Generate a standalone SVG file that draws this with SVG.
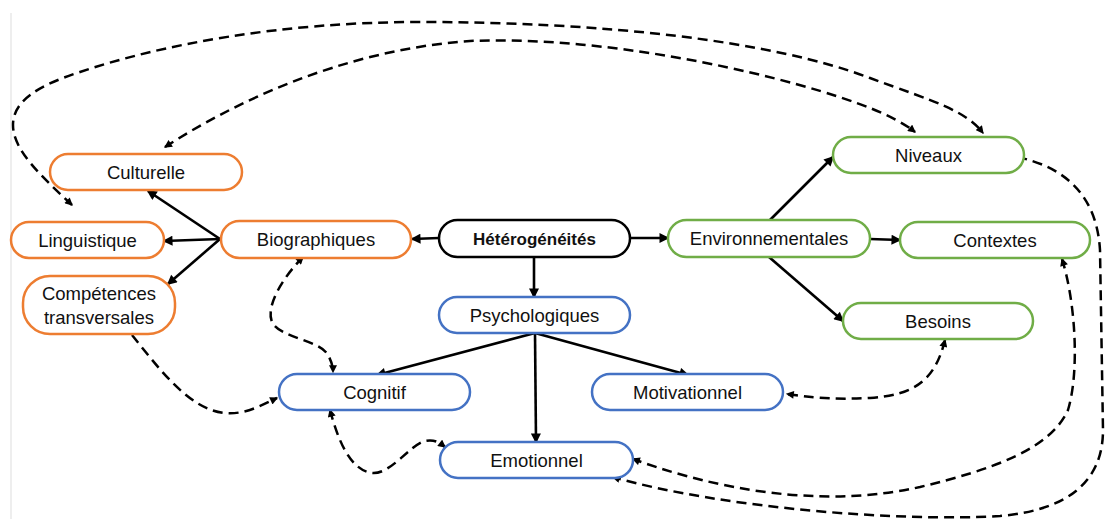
<svg xmlns="http://www.w3.org/2000/svg" width="1105" height="519" viewBox="0 0 1105 519">
  <style>
    .node rect { fill: #fff; stroke-width: 2.5; }
    .orange rect { stroke: #ED7D31; }
    .green rect { stroke: #70AD47; }
    .blue rect { stroke: #4472C4; }
    .black rect { stroke: #000; }
    text { font-family: "Liberation Sans", Arial, sans-serif; font-size: 18.5px; fill: #111; text-anchor: middle; }
    text.bold { font-weight: bold; font-size: 17px; }
    .solid path { fill: none; stroke: #000; stroke-width: 2.6; marker-end: url(#ah); }
    .dashed path { fill: none; stroke: #000; stroke-width: 2.5; stroke-dasharray: 10 6; marker-end: url(#dh); }
    .dashed path.both { marker-start: url(#dh); }
  </style>
  <defs>
    <marker id="ah" viewBox="0 0 10 10" refX="8.5" refY="5" markerWidth="11" markerHeight="10" markerUnits="userSpaceOnUse" orient="auto-start-reverse">
      <path d="M0,0 L10,5 L0,10 z" fill="#000"/>
    </marker>
    <marker id="dh" viewBox="0 0 10 10" refX="8.5" refY="5" markerWidth="9" markerHeight="8" markerUnits="userSpaceOnUse" orient="auto-start-reverse">
      <path d="M0,0 L10,5 L0,10 z" fill="#000"/>
    </marker>
  </defs>

  <line x1="11" y1="13" x2="11" y2="519" stroke="#dddddd" stroke-width="1"/>

  <g id="connectors">
    <g class="solid">
      <path d="M220,239 L148,191"/>
      <path d="M220,239 L164,241"/>
      <path d="M220,239 L168,284"/>
      <path d="M439,238 L412,239"/>
      <path d="M630,238 L668,238"/>
      <path d="M534,257 L534,297"/>
      <path d="M770,220 L833,157"/>
      <path d="M870,239 L900,240"/>
      <path d="M769,257 L843,321"/>
      <path d="M535,333 L377,375"/>
      <path d="M535,333 L688,375"/>
      <path d="M535,333 L536,442"/>
    </g>
    <g class="dashed">
      <path class="both" d="M72,205 C40,175 13,150 13,125 C13,100 40,85 80,72 C160,45 280,22 420,22 C600,22 770,40 870,78 C935,102 965,110 983,133"/>
      <path class="both" d="M165,147 C230,105 340,50 470,41 C620,35 800,80 870,108 C890,116 905,124 915,132"/>
      <path class="both" d="M1017,157 C1070,168 1097,200 1100,250 L1103,430 C1103,480 1070,510 1000,516 C900,522 720,508 613,477"/>
      <path class="both" d="M1062,259 C1075,300 1080,370 1068,410 C1050,450 990,470 920,487 C840,505 740,498 633,459"/>
      <path class="both" d="M945,340 C935,380 915,395 870,398 C830,400 810,397 787,394"/>
      <path class="both" d="M303,257 C285,275 265,305 272,322 C280,338 320,340 328,355 C332,362 333,368 333,372"/>
      <path d="M132,335 C160,370 190,410 225,413 C245,415 262,405 277,398"/>
      <path class="both" d="M330,410 C338,440 350,470 372,473 C390,475 410,445 425,441 C435,439 440,443 445,447"/>
    </g>
  </g>

  <g id="culturelle" class="node orange">
    <rect x="50" y="154" width="192" height="36" rx="18"/>
    <text x="146" y="178.5">Culturelle</text>
  </g>
  <g id="linguistique" class="node orange">
    <rect x="11" y="222" width="153" height="36" rx="18"/>
    <text x="87.5" y="246.5">Linguistique</text>
  </g>
  <g id="competences" class="node orange">
    <rect x="23" y="276" width="152" height="58" rx="27"/>
    <text x="99" y="300">Compétences</text>
    <text x="99" y="324">transversales</text>
  </g>
  <g id="biographiques" class="node orange">
    <rect x="221" y="221" width="190" height="37" rx="18.5"/>
    <text x="316" y="246">Biographiques</text>
  </g>
  <g id="heterogeneites" class="node black">
    <rect x="439" y="220" width="191" height="37" rx="18.5"/>
    <text class="bold" x="534.5" y="244.5">Hétérogénéités</text>
  </g>
  <g id="environnementales" class="node green">
    <rect x="668" y="220" width="202" height="37" rx="18.5"/>
    <text x="769" y="245">Environnementales</text>
  </g>
  <g id="niveaux" class="node green">
    <rect x="833" y="137" width="191" height="36" rx="18"/>
    <text x="928.5" y="161.5">Niveaux</text>
  </g>
  <g id="contextes" class="node green">
    <rect x="900" y="222" width="190" height="36" rx="18"/>
    <text x="995" y="246.5">Contextes</text>
  </g>
  <g id="besoins" class="node green">
    <rect x="843" y="303" width="190" height="36" rx="18"/>
    <text x="938" y="327.5">Besoins</text>
  </g>
  <g id="psychologiques" class="node blue">
    <rect x="439" y="297" width="191" height="36" rx="18"/>
    <text x="534.5" y="321.5">Psychologiques</text>
  </g>
  <g id="cognitif" class="node blue">
    <rect x="279" y="374" width="191" height="36" rx="18"/>
    <text x="374.5" y="398.5">Cognitif</text>
  </g>
  <g id="motivationnel" class="node blue">
    <rect x="592" y="374" width="191" height="36" rx="18"/>
    <text x="687.5" y="398.5">Motivationnel</text>
  </g>
  <g id="emotionnel" class="node blue">
    <rect x="440" y="442" width="193" height="36" rx="18"/>
    <text x="536.5" y="466.5">Emotionnel</text>
  </g>
</svg>
